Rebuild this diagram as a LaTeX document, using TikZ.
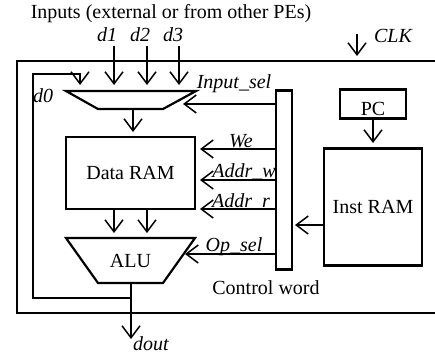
\documentclass[tikz,border=0pt]{standalone}
\usepackage{fontspec}
\setmainfont{Liberation Serif}
\usetikzlibrary{arrows.meta}
\begin{document}
\begin{tikzpicture}[x=1pt,y=-1pt,
  thinl/.style={line width=1.3pt},
  thickl/.style={line width=2.2pt},
  box/.style={draw, line width=2.2pt, inner sep=0pt},
  arr/.style={thinl, -{Straight Barb[length=12pt,width=18pt,line width=1.5pt]}},
  lbl/.style={font=\fontsize{20}{23}\selectfont\itshape, inner sep=0pt},
  txt/.style={font=\fontsize{20}{23}\selectfont, inner sep=0pt}]
\useasboundingbox (0,0) rectangle (435,356);

% outer frame (right side beyond the picture)
\draw[thickl] (435,61) -- (17,61) -- (17,313) -- (435,313);

% top texts
\node[txt] (inputs) at (171,14) {Inputs (external or from other PEs)};
\node[lbl] (d1l) at (107,35) {d1};
\node[lbl] (d2l) at (140,35) {d2};
\node[lbl] (d3l) at (173,35) {d3};
\node[lbl] (clkl) at (393,36) {CLK};
\coordinate (clks) at (357,34);
\coordinate (clke) at (357,56);
\draw[arr] (clks) -- (clke);

% multiplexer
\coordinate (mtl) at (66,91);
\coordinate (mtr) at (196,91);
\coordinate (mbr) at (163,109);
\coordinate (mbl) at (98,109);
\draw[thickl] (mtl) -- (mtr) -- (mbr) -- (mbl) -- cycle;
\coordinate (d1s) at (114,46);
\coordinate (d2s) at (147,46);
\coordinate (d3s) at (179,46);
\coordinate (d1e) at (114,85);
\coordinate (d2e) at (147,85);
\coordinate (d3e) at (179,85);
\draw[arr] (d1s) -- (d1e);
\draw[arr] (d2s) -- (d2e);
\draw[arr] (d3s) -- (d3e);
\coordinate (d0e) at (80,85);
\node[lbl] (d0l) at (43,96) {d0};

% Data RAM
\node[box, minimum width=129pt, minimum height=72pt, txt] (dram) at (130.5,173) {Data RAM};
\coordinate (mo) at (133,109);
\coordinate (moe) at (133,132);
\draw[arr] (mo) -- (moe);

% ALU
\coordinate (atl) at (66,238);
\coordinate (atr) at (195,238);
\coordinate (abr) at (163,283);
\coordinate (abl) at (98,283);
\draw[thickl] (atl) -- (atr) -- (abr) -- (abl) -- cycle;
\node[txt] (alu) at (130.5,261) {ALU};
\coordinate (r1e) at (114,233);
\coordinate (r2e) at (147,233);
\draw[arr] (dram.south -| r1e) -- (r1e);
\draw[arr] (dram.south -| r2e) -- (r2e);

% output and feedback
\coordinate (ao) at (131,283);
\coordinate (fb) at (131,298);
\coordinate (oute) at (131,339);
\draw[arr] (ao) -- (oute);
\draw[thickl] (fb) -- (33,298) -- (33,74) -- (80,74);
\draw[arr] (80,73) -- (d0e);
\node[lbl] (doutl) at (151,344) {dout};

% control word bar
\node[box, minimum width=16pt, minimum height=179pt] (bar) at (284,180) {};
\node[txt] (cwl) at (266,288) {Control word};

\coordinate (ise) at (183,104);
\coordinate (wee) at (200,149);
\coordinate (awe) at (200,180);
\coordinate (are) at (200,209);
\coordinate (ope) at (185,254);
\draw[arr] (bar.west |- ise) -- (ise);
\draw[arr] (bar.west |- wee) -- (wee);
\draw[arr] (bar.west |- awe) -- (awe);
\draw[arr] (bar.west |- are) -- (are);
\draw[arr] (bar.west |- ope) -- (ope);
\node[lbl] (isl) at (234,84) {Input\_sel};
\node[lbl] (wel) at (241,141) {We};
\node[lbl] (awl) at (244,172) {Addr\_w};
\node[lbl] (arl) at (241,202) {Addr\_r};
\node[lbl] (opl) at (234,247) {Op\_sel};

% PC and Inst RAM
\node[box, minimum width=66pt, minimum height=29pt, txt] (pc) at (373,104) {\raisebox{-5pt}[\height][\depth]{PC}};
\node[box, minimum width=98pt, minimum height=117pt, txt] (ir) at (373,207) {Inst RAM};
\coordinate (pce) at (373,143);
\draw[arr] (pc.south) -- (pce);
\coordinate (ire) at (295,225);
\draw[arr] (ir.west |- ire) -- (ire);
\end{tikzpicture}
\end{document}
